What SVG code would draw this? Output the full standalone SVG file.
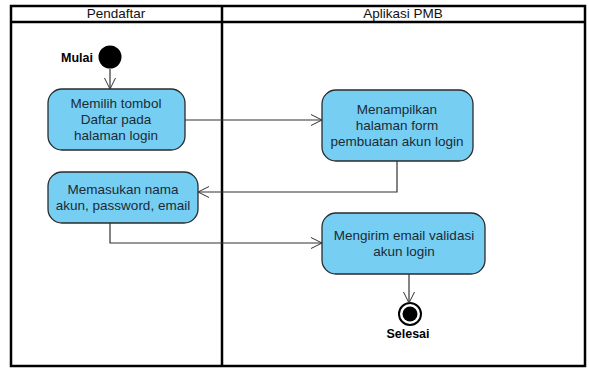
<svg xmlns="http://www.w3.org/2000/svg" width="589" height="368" viewBox="0 0 589 368">
<defs>
<marker id="arr" viewBox="0 0 12 12" refX="11" refY="6" markerWidth="12" markerHeight="12" markerUnits="userSpaceOnUse" orient="auto">
<path d="M0,0.5 L11,6 L0,11.5" fill="none" stroke="#333" stroke-width="1"/>
</marker>
</defs>
<style>
.frame{fill:none;stroke:#000;stroke-width:2.5}
.act{fill:#76cff3;stroke:#2b2b2b;stroke-width:1.3}
.t{font-family:"Liberation Sans",Arial,sans-serif;font-size:13.5px;fill:#1d2a33;text-anchor:middle}
.h{font-family:"Liberation Sans",Arial,sans-serif;font-size:13.5px;fill:#111;text-anchor:middle}
.b{font-family:"Liberation Sans",Arial,sans-serif;font-size:12.5px;font-weight:bold;fill:#000}
.c{fill:none;stroke:#333;stroke-width:1.2;marker-end:url(#arr)}
</style>
<rect width="589" height="368" fill="#fff"/>
<g id="swimlanes">
<rect class="frame" x="11" y="6" width="574" height="360"/>
<line class="frame" x1="11" y1="22" x2="585" y2="22"/>
<line class="frame" x1="222" y1="6" x2="222" y2="366"/>
<text class="h" x="116" y="18">Pendaftar</text>
<text class="h" x="403" y="18">Aplikasi PMB</text>
</g>
<g id="start">
<circle cx="110" cy="57" r="11.5" fill="#000"/>
<text class="b" x="61" y="62">Mulai</text>
</g>
<g id="n1">
<rect class="act" x="48" y="89" width="137" height="61" rx="14"/>
<text class="t" x="116" y="108">Memilih tombol</text>
<text class="t" x="116" y="124">Daftar pada</text>
<text class="t" x="116" y="140">halaman login</text>
</g>
<g id="n2">
<rect class="act" x="322" y="90" width="151" height="71" rx="14"/>
<text class="t" x="397" y="114">Menampilkan</text>
<text class="t" x="397" y="130">halaman form</text>
<text class="t" x="397" y="146">pembuatan akun login</text>
</g>
<g id="n3">
<rect class="act" x="48" y="172" width="150" height="51" rx="14"/>
<text class="t" x="123" y="194">Memasukan nama</text>
<text class="t" x="123" y="210">akun, password, email</text>
</g>
<g id="n4">
<rect class="act" x="322" y="213" width="163" height="61" rx="14"/>
<text class="t" x="404" y="240">Mengirim email validasi</text>
<text class="t" x="404" y="256">akun login</text>
</g>
<g id="end">
<circle cx="410" cy="314" r="11" fill="#fff" stroke="#000" stroke-width="2"/>
<circle cx="410" cy="314" r="7.5" fill="#000"/>
<text class="b" x="408" y="338" text-anchor="middle">Selesai</text>
</g>
<g id="connectors">
<path class="c" d="M110,69 L110,89"/>
<path class="c" d="M185,120 L322,120"/>
<path class="c" d="M397,161 L397,192 L198,192"/>
<path class="c" d="M110,223 L110,243 L322,243"/>
<path class="c" d="M409,274 L409,303"/>
</g>
</svg>
